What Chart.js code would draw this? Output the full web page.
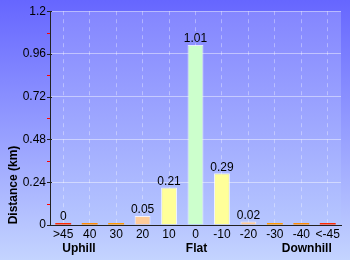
<!DOCTYPE html>
<html>
<head>
<meta charset="utf-8">
<script src="https://cdn.jsdelivr.net/npm/chart.js"></script>
<style>
  html, body { margin: 0; padding: 0; }
  #wrap { width: 350px; height: 260px; }
</style>
</head>
<body>
<div id="wrap"><canvas id="gradChart"></canvas></div>
<script>
// categorias de pendiente (%) y distancia en km
const grades = [">45", "40", "30", "20", "10", "0", "-10", "-20", "-30", "-40", "<-45"];
const distances = [0.004, 0.004, 0.004, 0.05, 0.21, 1.01, 0.29, 0.02, 0.004, 0.004, 0.004];
const valueLabels = ["0", "", "", "0.05", "0.21", "1.01", "0.29", "0.02", "", "", ""];
const yTicks = [0, 0.24, 0.48, 0.72, 0.96, 1.2];
const yTickText = ["0", "0.24", "0.48", "0.72", "0.96", "1.2"];
const groups = ["Uphill", "Flat", "Downhill"];

const barColors = [
  "#ff2a00", "#ff8a00", "#ff9900", "#ffcc99", "#ffff99",
  "#ccffcc",
  "#ffff99", "#ffcc99", "#ff9900", "#ff8a00", "#ff2a00"
];
const barBorders = [0, 0, 0, 1, 1, 1, 1, 1, 0, 0, 0];

const FONT = "'Liberation Sans', Arial, sans-serif";

// fondo con degradado + zona del grafico
const bgPlugin = {
  id: "bg",
  beforeDraw(chart) {
    const c = chart.ctx;
    const a = chart.chartArea;
    let g = c.createLinearGradient(0, 0, 0, chart.height);
    g.addColorStop(0, "#6666ff");
    g.addColorStop(1, "#c4d4ff");
    c.save();
    c.fillStyle = g;
    c.fillRect(0, 0, chart.width, chart.height);
    let g2 = c.createLinearGradient(0, a.top, 0, a.bottom);
    g2.addColorStop(0, "#8486ff");
    g2.addColorStop(1, "#b6c6ff");
    c.fillStyle = g2;
    c.fillRect(a.left, a.top, a.right - a.left, a.bottom - a.top);
    c.restore();
  }
};

// marcas del eje y, etiquetas de barras y grupos
const extrasPlugin = {
  id: "extras",
  afterDatasetsDraw(chart) {
    const c = chart.ctx;
    const y = chart.scales.y;
    const x = chart.scales.x;
    const a = chart.chartArea;
    c.save();
    // marcas menores rojas
    c.strokeStyle = "#ff0000";
    c.lineWidth = 1;
    for (let i = 0; i < yTicks.length - 1; i++) {
      const py = Math.round(y.getPixelForValue((yTicks[i] + yTicks[i + 1]) / 2)) + 0.5;
      c.beginPath();
      c.moveTo(a.left - 3, py);
      c.lineTo(a.left, py);
      c.stroke();
    }
    // marcas mayores
    c.strokeStyle = "#222";
    yTicks.forEach(v => {
      const py = Math.round(y.getPixelForValue(v)) + 0.5;
      c.beginPath();
      c.moveTo(a.left - 3, py);
      c.lineTo(a.left + 2, py);
      c.stroke();
    });
    // valores encima de las barras
    c.fillStyle = "#000";
    c.font = "12px " + FONT;
    c.textAlign = "center";
    c.textBaseline = "bottom";
    chart.getDatasetMeta(0).data.forEach((bar, i) => {
      if (valueLabels[i]) c.fillText(valueLabels[i], bar.x, bar.y);
    });
    // grupos bajo el eje
    c.font = "bold 12px " + FONT;
    c.textBaseline = "middle";
    c.textAlign = "left";
    c.fillText(groups[0], x.getPixelForValue(0) - 1, 249);
    c.textAlign = "center";
    c.fillText(groups[1], x.getPixelForValue(5) + 1, 249);
    c.textAlign = "right";
    c.fillText(groups[2], x.getPixelForValue(10) + 4, 249);
    // titulo eje y
    c.font = "bold 12px " + FONT;
    c.translate(14, 185);
    c.rotate(-Math.PI / 2);
    c.textAlign = "center";
    c.fillText("Distance (km)", 0, 0);
    c.restore();
  }
};

const ctx = document.getElementById("gradChart").getContext("2d");

const gradChart = new Chart(ctx, {
  type: "bar",
  data: {
    labels: grades,
    datasets: [{
      data: distances,
      backgroundColor: barColors,
      borderColor: "rgba(255,255,255,0.8)",
      borderWidth: barBorders,
      barPercentage: 0.6,
      categoryPercentage: 1.0,
      minBarLength: 2
    }]
  },
  options: {
    responsive: true,
    maintainAspectRatio: false,
    animation: false,
    layout: { padding: { left: 0, right: 9, top: 10, bottom: 0 } },
    plugins: {
      legend: { display: false },
      tooltip: { enabled: false }
    },
    scales: {
      x: {
        afterFit(scale) { scale.height = 35; },
        grid: {
          offset: false,
          color: "rgba(255,255,255,0.35)",
          drawTicks: false
        },
        border: { color: "#222", dash: [4, 4] },
        ticks: {
          color: "#000",
          padding: 2,
          maxRotation: 0,
          autoSkip: false,
          font: { family: FONT, size: 12 }
        }
      },
      y: {
        min: 0,
        max: 1.2,
        afterFit(scale) { scale.width = 50; },
        afterBuildTicks(scale) {
          scale.ticks = yTicks.map(v => ({ value: v }));
        },
        grid: {
          color: "rgba(255,255,255,0.45)",
          drawTicks: false
        },
        border: { color: "#222" },
        ticks: {
          color: "#000",
          padding: 4,
          font: { family: FONT, size: 12 },
          callback: (v, i) => yTickText[i]
        }
      }
    }
  },
  plugins: [bgPlugin, extrasPlugin]
});
</script>
</body>
</html>
